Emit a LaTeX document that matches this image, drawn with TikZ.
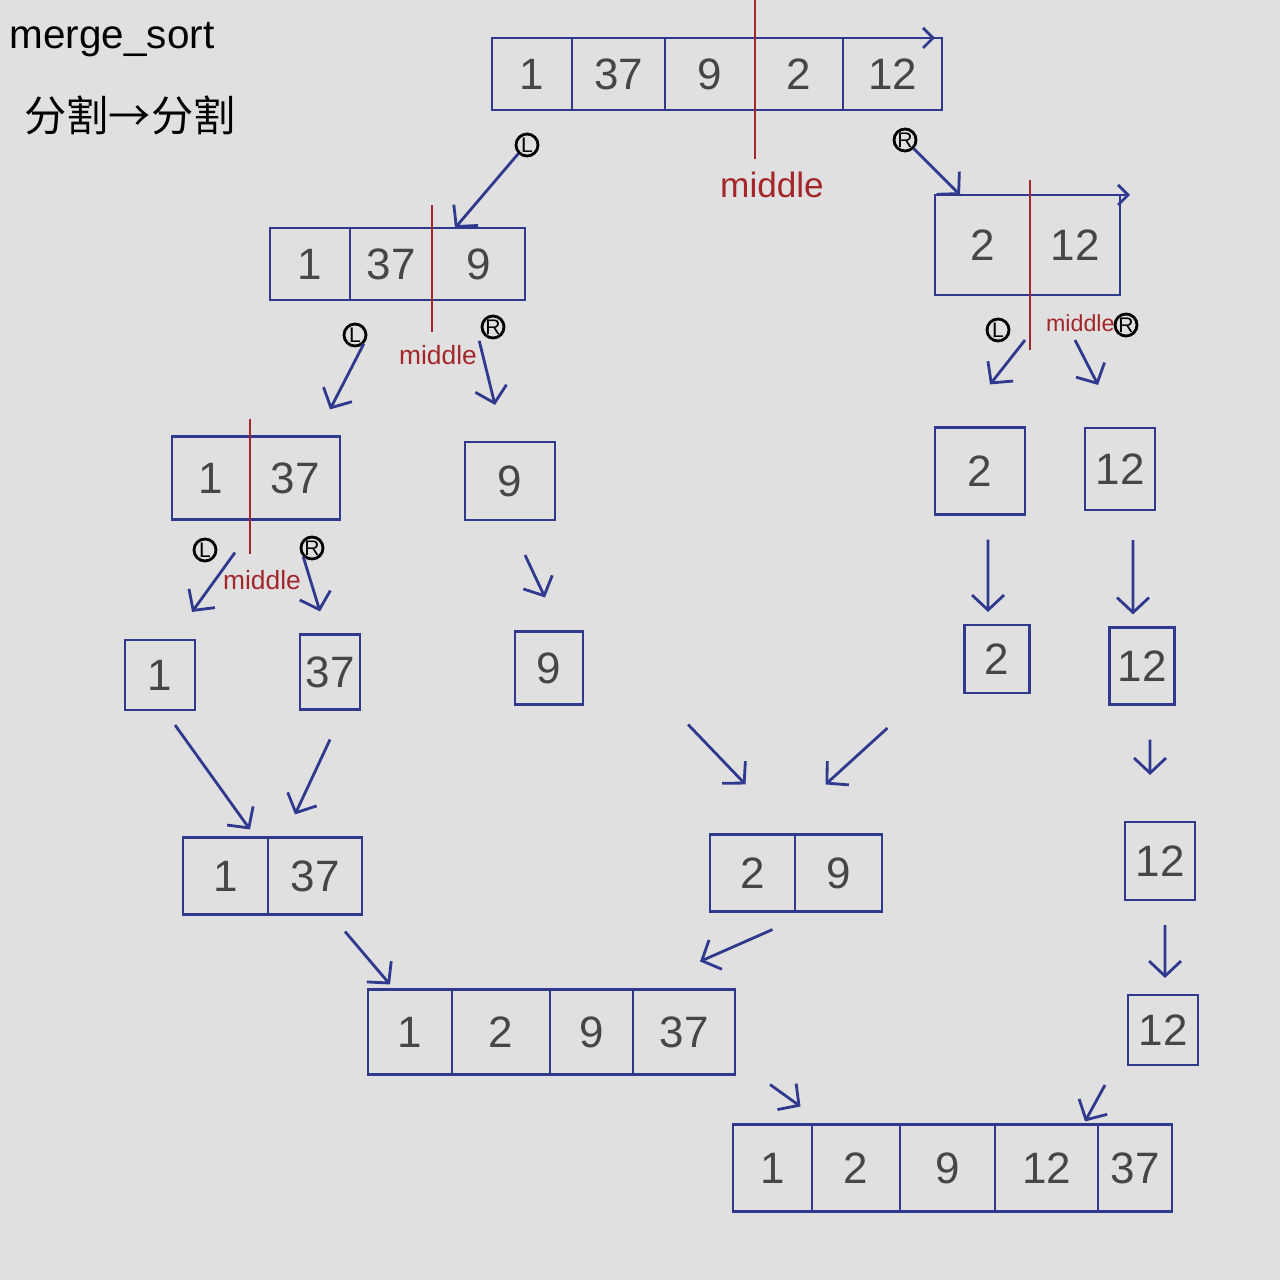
\documentclass[tikz,border=0pt]{standalone}
\usepackage{fontspec}
\setmainfont{Liberation Sans}
\newfontfamily\cjk{Noto Sans CJK SC}
\usetikzlibrary{arrows.meta}
\definecolor{penblue}{HTML}{2F3A8F}
\definecolor{inkred}{HTML}{A3262A}
\definecolor{pencil}{HTML}{464646}
\definecolor{paper}{HTML}{E0E0E0}

\begin{document}
\begin{tikzpicture}[x=0.01cm, y=-0.01cm, thick,
  cell/.style={draw=penblue, thick, outer sep=0pt, inner sep=0pt, text=pencil, font=\fontsize{12.5}{14}\selectfont},
  tag/.style={draw=black, circle, inner sep=0pt, minimum size=0.22cm, font=\fontsize{6}{6}\selectfont},
  mid/.style={text=inkred, font=\fontsize{7.5}{8}\selectfont},
  midline/.style={inkred, thick},
  arr/.style={penblue, thick, -{Straight Barb[length=1.5mm, width=3.2mm]}}]
  \fill[paper] (0,0) rectangle (1280,1280);
  \useasboundingbox (0,0) rectangle (1280,1280);

  \node[font=\fontsize{11.5}{14}\selectfont] (title) at (112,40) {merge\_sort};
  \node[font=\cjk\fontsize{12}{14}\selectfont] (sub) at (130,115) {分割→分割};

  % split: top row
  \foreach \xa/\xb/\v [count=\i] in {492/572/1, 572/665/37, 665/755/9, 755/843/2, 843/942/12}
    \node[cell, minimum width={(\xb-\xa)*0.01cm}, minimum height=0.72cm] (a\i) at ({(\xa+\xb)/2},74) {\v};
  \draw[penblue, thick, -{Straight Barb[length=1mm, width=2mm]}] (a1.north west) -- ([xshift=-0.07cm]a5.north east);
  \node[mid, font=\fontsize{10}{12}\selectfont] (m0) at (772,185) {middle};
  \draw[midline] (a3.north east) ++(0,-38) -- (m0.north -| a3.east);
  \node[tag] (La) at (527,145) {L};
  \node[tag] (Ra) at (905,140) {R};

  % second row
  \foreach \xa/\xb/\v [count=\i] in {270/350/1, 350/432/37, 432/525/9}
    \node[cell, minimum width={(\xb-\xa)*0.01cm}, minimum height=0.72cm] (b\i) at ({(\xa+\xb)/2},264) {\v};
  \node[mid] (m1) at (438,355) {middle};
  \draw[midline] (b2.north east) ++(0,-23) -- (m1.north -| b2.east);
  \node[tag] (Lb) at (355,335) {L};
  \node[tag] (Rb) at (493,327) {R};

  \foreach \xa/\xb/\v [count=\i] in {935/1030/2, 1030/1120/12}
    \node[cell, minimum width={(\xb-\xa)*0.01cm}, minimum height=1.0cm] (c\i) at ({(\xa+\xb)/2},245) {\v};
  \draw[penblue, thick, -{Straight Barb[length=1mm, width=2mm]}] (c1.north west) -- ([xshift=0.1cm]c2.north east);
  \draw[midline] (c1.north east) ++(0,-15) -- ++(0,170);
  \node[mid, anchor=west, font=\fontsize{6.6}{7}\selectfont] (m2) at (1033,323) {middle};
  \node[tag] (Lc) at (998,330) {L};
  \node[tag] (Rc) at (1126,325) {R};

  \draw[arr] (La.south west) -- ([xshift=0.23cm]b3.north west);
  \draw[arr] (Ra.south east) -- ([xshift=0.25cm]c1.north west);

  % third row
  \foreach \xa/\xb/\v [count=\i] in {172/250/1, 250/340/37}
    \node[cell, minimum width={(\xb-\xa)*0.01cm}, minimum height=0.83cm] (d\i) at ({(\xa+\xb)/2},478) {\v};
  \node[mid] (m3) at (262,580) {middle};
  \draw[midline] (d1.north east) ++(0,-17) -- ++(0,135);
  \node[tag] (Ld) at (205,550) {L};
  \node[tag] (Rd) at (312,548) {R};
  \node[cell, minimum width=0.9cm, minimum height=0.78cm] (e) at (510,481) {9};
  \node[cell, minimum width=0.9cm, minimum height=0.87cm] (f) at (980,471) {2};
  \node[cell, minimum width=0.7cm, minimum height=0.82cm] (g) at (1120,469) {12};

  \draw[arr] (Lb.south east) -- ([xshift=-0.1cm, yshift=0.27cm]d2.north east);
  \draw[arr] ([xshift=-0.05cm, yshift=-0.05cm]Rb.south west) -- ([xshift=-0.15cm, yshift=0.37cm]e.north);
  \draw[arr] ([xshift=-0.05cm, yshift=-0.45cm]c1.south east) -- ([xshift=0.1cm, yshift=0.43cm]f.north);
  \draw[arr] ([yshift=-0.45cm]c2.south) -- ([xshift=-0.22cm, yshift=0.43cm]g.north);

  % single cells
  \node[cell, minimum width=0.7cm, minimum height=0.7cm] (h1) at (160,675) {1};
  \node[cell, minimum width=0.6cm, minimum height=0.75cm] (h2) at (330,672) {37};
  \node[cell, minimum width=0.68cm, minimum height=0.73cm] (h3) at (549,668) {9};
  \node[cell, minimum width=0.65cm, minimum height=0.68cm] (h4) at (997,659) {2};
  \node[cell, minimum width=0.65cm, minimum height=0.77cm] (h5) at (1142,666) {12};

  \draw[arr] ([xshift=-0.15cm, yshift=-0.33cm]d1.south east) -- ([xshift=0.32cm, yshift=0.28cm]h1.north);
  \draw[arr] (Rd.south west) -- ([xshift=-0.1cm, yshift=0.23cm]h2.north);
  \draw[arr] ([xshift=0.15cm, yshift=-0.35cm]e.south) -- ([xshift=-0.04cm, yshift=0.34cm]h3.north);
  \draw[arr] ([xshift=0.08cm, yshift=-0.25cm]f.south) -- ([xshift=-0.09cm, yshift=0.13cm]h4.north);
  \draw[arr] ([xshift=0.13cm, yshift=-0.3cm]g.south) -- ([xshift=-0.09cm, yshift=0.13cm]h5.north);

  % merge
  \foreach \xa/\xb/\v [count=\i] in {183/268/1, 268/362/37}
    \node[cell, minimum width={(\xb-\xa)*0.01cm}, minimum height=0.77cm] (m\i) at ({(\xa+\xb)/2},876) {\v};
  \foreach \xa/\xb/\v [count=\i] in {710/795/2, 795/882/9}
    \node[cell, minimum width={(\xb-\xa)*0.01cm}, minimum height=0.77cm] (n\i) at ({(\xa+\xb)/2},873) {\v};
  \node[cell, minimum width=0.7cm, minimum height=0.78cm] (k) at (1160,861) {12};

  \draw[arr] ([xshift=0.15cm, yshift=-0.15cm]h1.south) -- ([xshift=-0.18cm, yshift=0.08cm]m1.north east);
  \draw[arr] ([yshift=-0.3cm]h2.south) -- ([xshift=-0.2cm, yshift=0.23cm]m2.north);
  \draw[arr] ([xshift=1.05cm, yshift=-0.2cm]h3.south east) -- ([xshift=-0.07cm, yshift=0.5cm]n1.north);
  \draw[arr] ([xshift=-0.77cm, yshift=-0.35cm]h4.south west) -- ([xshift=-0.13cm, yshift=0.5cm]n2.north);
  \draw[arr] ([xshift=0.08cm, yshift=-0.35cm]h5.south) -- ([xshift=-0.1cm, yshift=0.47cm]k.north);

  \foreach \xa/\xb/\v [count=\i] in {368/452/1, 452/550/2, 550/633/9, 633/735/37}
    \node[cell, minimum width={(\xb-\xa)*0.01cm}, minimum height=0.85cm] (p\i) at ({(\xa+\xb)/2},1032) {\v};
  \node[cell, minimum width=0.7cm, minimum height=0.7cm] (q) at (1163,1030) {12};

  \draw[arr] ([xshift=0.3cm, yshift=-0.17cm]m2.south) -- ([xshift=-0.2cm, yshift=0.05cm]p1.north);
  \draw[arr] ([xshift=0.2cm, yshift=-0.18cm]n1.south) -- ([xshift=-0.35cm, yshift=0.28cm]p4.north east);
  \draw[arr] ([xshift=0.05cm, yshift=-0.25cm]k.south) -- ([xshift=0.02cm, yshift=0.17cm]q.north);

  \foreach \xa/\xb/\v [count=\i] in {733/812/1, 812/900/2, 900/995/9, 995/1098/12, 1098/1172/37}
    \node[cell, minimum width={(\xb-\xa)*0.01cm}, minimum height=0.87cm] (s\i) at ({(\xa+\xb)/2},1168) {\v};

  \draw[arr] ([xshift=0.35cm, yshift=-0.1cm]p4.south east) -- ([xshift=0.28cm, yshift=0.18cm]s1.north);
  \draw[arr] ([xshift=-0.23cm, yshift=-0.2cm]q.south west) -- ([xshift=-0.13cm, yshift=0.03cm]s5.north west);
\end{tikzpicture}
\end{document}
